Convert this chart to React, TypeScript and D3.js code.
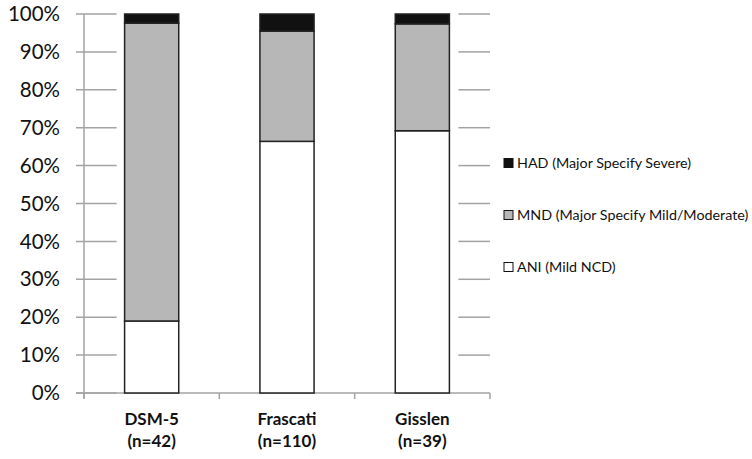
import React from 'react'
import * as d3 from 'd3'

const categories = ['DSM-5', 'Frascati', 'Gisslen']
const sampleLabels = ['(n=42)', '(n=110)', '(n=39)']
const series = ['ANI (Mild NCD)', 'MND (Major Specify Mild/Moderate)', 'HAD (Major Specify Severe)']
// share of each study's patients, per series (ANI, MND, HAD)
const aniValues = [0.19, 0.664, 0.692]
const mndValues = [0.786, 0.291, 0.282]
const hadValues = [0.024, 0.045, 0.026]
const yTicks = [0, 0.1, 0.2, 0.3, 0.4, 0.5, 0.6, 0.7, 0.8, 0.9, 1]

const colors = ['#ffffff', '#b7b7b7', '#111111']
const gridColor = '#a3a3a3'
const font = 'Lato, "Open Sans", sans-serif'

const App = () => {
  const width = 752
  const height = 459
  const left = 84
  const right = 490
  const top = 14
  const bottom = 393

  const x = d3.scaleBand<string>()
    .domain(categories)
    .range([left, right])
    .paddingInner(0.6)
    .paddingOuter(0.3)

  const y = d3.scaleLinear().domain([0, 1]).range([bottom, top])

  const rows = categories.map((c, i) => ({
    cat: c,
    ani: aniValues[i],
    mnd: mndValues[i],
    had: hadValues[i],
  }))
  const stacked = d3.stack<any>().keys(['ani', 'mnd', 'had'])(rows)

  const step = x.step()
  const firstBar = x(categories[0])!
  const lastBarEnd = x(categories[categories.length - 1])! + x.bandwidth()
  const fmt = d3.format('.0%')

  return (
    <svg width={width} height={height} style={{ position: 'absolute', left: 0, top: 0 }}>
      <rect width={width} height={height} fill="#fff" />
      {/* gridlines, visible only outside the bars */}
      {yTicks.map((t) => (
        <g key={t}>
          <line x1={76} x2={firstBar - 8} y1={y(t)} y2={y(t)} stroke={gridColor} strokeWidth={1.5} />
          {t > 0 && (
            <line x1={lastBarEnd + 9} x2={right} y1={y(t)} y2={y(t)} stroke={gridColor} strokeWidth={1.5} />
          )}
        </g>
      ))}
      <line x1={left} x2={left} y1={top} y2={bottom + 5} stroke={gridColor} strokeWidth={1.5} />
      <line x1={76} x2={right} y1={bottom} y2={bottom} stroke={gridColor} strokeWidth={1.5} />
      {d3.range(categories.length + 1).map((i) => (
        <line key={i} x1={left + i * step} x2={left + i * step} y1={bottom} y2={bottom + 6}
          stroke={gridColor} strokeWidth={1.5} />
      ))}
      {yTicks.map((t) => (
        <text key={t} x={60} y={y(t)} dy="0.35em" textAnchor="end" fontFamily={font}
          fontSize={20.5} fill="#111">{fmt(t)}</text>
      ))}
      {stacked.map((s, si) => (
        <g key={si}>
          {s.map((d, i) => (
            <rect key={i} x={x(categories[i])} y={y(d[1])} width={x.bandwidth()}
              height={y(d[0]) - y(d[1])} fill={colors[si]} stroke="#222" strokeWidth={1.5} />
          ))}
        </g>
      ))}
      {categories.map((c, i) => (
        <text key={c} x={x(c)! + x.bandwidth() / 2} textAnchor="middle" fontFamily={font}
          fontSize={17} fontWeight="bold" fill="#111">
          <tspan x={x(c)! + x.bandwidth() / 2} y={425}>{c}</tspan>
          <tspan x={x(c)! + x.bandwidth() / 2} y={447}>{sampleLabels[i]}</tspan>
        </text>
      ))}
      {[2, 1, 0].map((si, k) => (
        <g key={si} transform={`translate(504,${163 + k * 52})`}>
          <rect x={0} y={-4.5} width={9} height={9} fill={colors[si]} stroke="#111" strokeWidth={1} />
          <text x={13} y={0} dy="0.35em" fontFamily={font} fontSize={14.3} fill="#111">{series[si]}</text>
        </g>
      ))}
    </svg>
  )
}

export default App
